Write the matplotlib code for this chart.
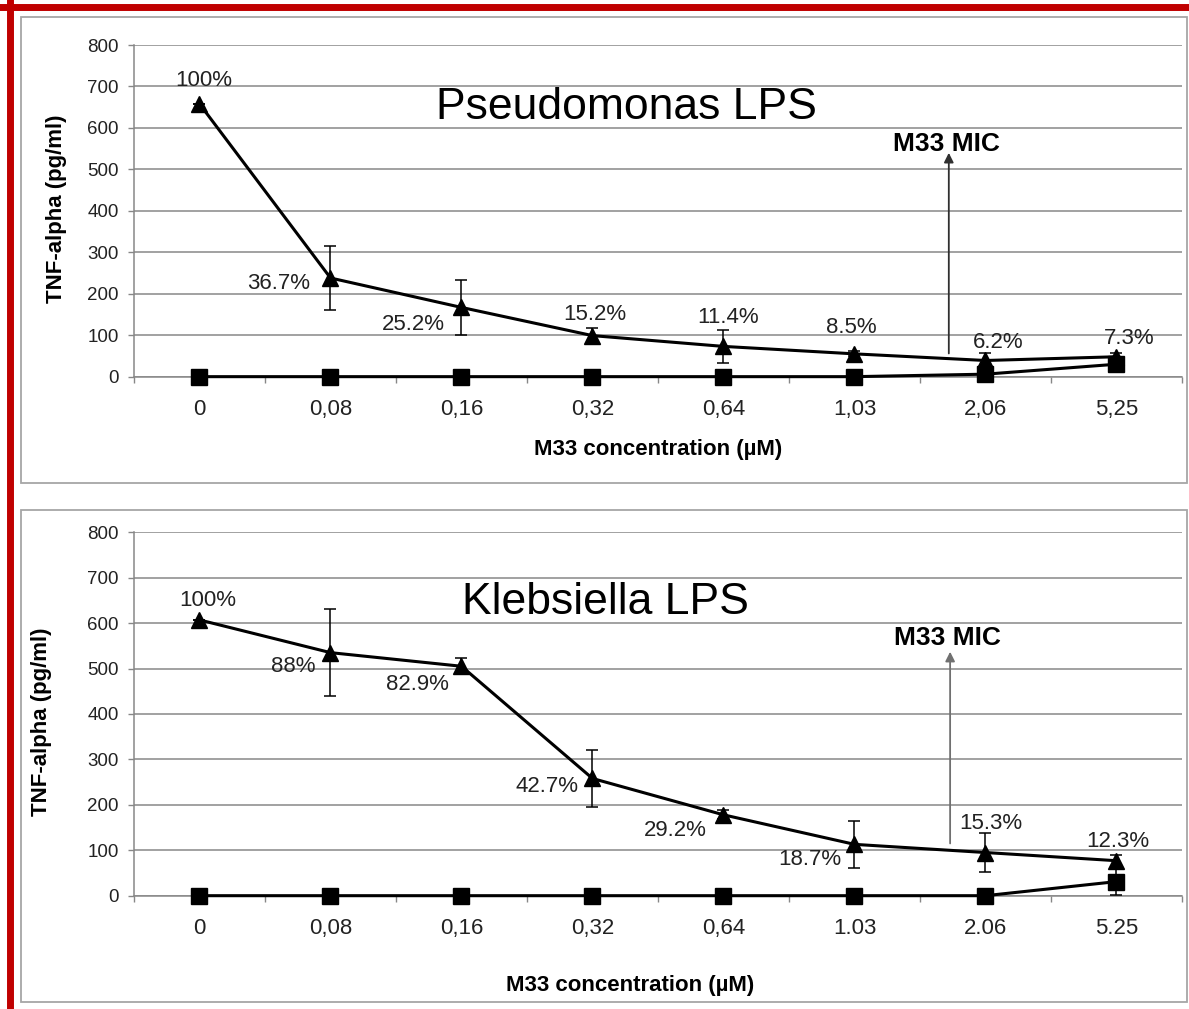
import numpy as np
import matplotlib
matplotlib.use('Agg')
import matplotlib.pyplot as plt
from matplotlib.patches import Rectangle
from matplotlib.lines import Line2D

plt.rcParams['font.family'] = ['Liberation Sans', 'DejaVu Sans']

# M33 concentration (uM) tick labels, as printed on each panel
pseudo_ticks = ['0', '0,08', '0,16', '0,32', '0,64', '1,03', '2,06', '5,25']
kleb_ticks = ['0', '0,08', '0,16', '0,32', '0,64', '1.03', '2.06', '5.25']

# Pseudomonas LPS - TNF-alpha (pg/ml)
pseudo_lps = [658, 238, 167, 99, 73, 55, 39, 48]
pseudo_lps_err = [0, 78, 67, 18, 40, 6, 18, 8]
pseudo_ctrl = [0, 0, 0, 0, 0, 0, 6, 30]
pseudo_ctrl_err = [0, 0, 0, 0, 0, 0, 0, 5]
pseudo_pct = ['100%', '36.7%', '25.2%', '15.2%', '11.4%', '8.5%', '6.2%', '7.3%']

# Klebsiella LPS - TNF-alpha (pg/ml)
kleb_lps = [607, 535, 505, 258, 178, 113, 95, 77]
kleb_lps_err = [0, 95, 18, 63, 10, 52, 42, 12]
kleb_ctrl = [0, 0, 0, 0, 0, 0, 0, 31]
kleb_ctrl_err = [0, 0, 0, 0, 0, 0, 0, 30]
kleb_pct = ['100%', '88%', '82.9%', '42.7%', '29.2%', '18.7%', '15.3%', '12.3%']

# where each % label sits relative to its point (offset points)
pseudo_pct_off = [(3, 17), (-37, -4), (-35, -12), (2, 15), (3, 21), (-2, 19), (9, 13), (9, 13)]
kleb_pct_off = [(6, 14), (-27, -10), (-32, -13), (-33, -6), (-35, -11), (-32, -11), (4, 21), (1, 14)]

GRID = '#878787'

fig = plt.figure(figsize=(11.89, 10.09), dpi=100)


def panel(rect, ticks, lps, lps_err, ctrl, ctrl_err, pct, pct_off, title, title_x,
          mic_x, mic_y0, mic_y1, mic_text_y, xlab_x, xlab_y, ylab_x, ylab_y, arrow_col):
    ax = fig.add_axes(rect)
    x = np.arange(len(ticks))

    ax.errorbar(x, ctrl, yerr=ctrl_err, fmt='-s', color='black', lw=2.2, ms=12,
                elinewidth=1.1, capsize=4, capthick=1.1, zorder=3, clip_on=False)
    ax.errorbar(x, lps, yerr=lps_err, fmt='-^', color='black', lw=2.2, ms=12,
                elinewidth=1.1, capsize=4, capthick=1.1, zorder=4, clip_on=False)

    for i, (txt, off) in enumerate(zip(pct, pct_off)):
        ax.annotate(txt, (x[i], lps[i]), xytext=off, textcoords='offset points',
                    ha='center', va='center', fontsize=16, color='#222222')

    ax.text(title_x, 621, title, fontsize=32, ha='center', va='baseline')

    # MIC arrow
    ax.annotate('', xy=(mic_x, mic_y1), xytext=(mic_x, mic_y0),
                arrowprops=dict(arrowstyle='-|>', color=arrow_col, lw=1.3,
                                mutation_scale=14, shrinkA=0, shrinkB=0))
    ax.text(mic_x - 0.02, mic_text_y, 'M33 MIC', fontsize=19, fontweight='bold',
            ha='center', va='center')

    ax.set_xlim(-0.5, 7.5)
    ax.set_ylim(0, 800)
    ax.set_yticks(np.arange(0, 801, 100))
    ax.set_xticks(x)
    ax.set_xticklabels(ticks)
    ax.set_xticks(np.arange(-0.5, 8, 1), minor=True)
    ax.tick_params(axis='x', which='major', length=0, pad=16, labelsize=16, labelcolor='#222222')
    ax.tick_params(axis='x', which='minor', length=4, width=1, color=GRID, direction='out')
    ax.tick_params(axis='y', length=4, width=1, color=GRID, pad=7, labelsize=13.5, labelcolor='#222222')

    ax.yaxis.grid(True, color=GRID, lw=1.1)
    ax.set_axisbelow(True)
    for s in ('top', 'right'):
        ax.spines[s].set_visible(False)
    for s in ('left', 'bottom'):
        ax.spines[s].set_color(GRID)
        ax.spines[s].set_linewidth(1.1)
        ax.spines[s].set_zorder(1)

    ax.set_xlabel('M33 concentration (µM)', fontsize=16, fontweight='bold')
    ax.xaxis.set_label_coords(xlab_x, xlab_y)
    ax.set_ylabel('TNF-alpha (pg/ml)', fontsize=16, fontweight='bold')
    ax.yaxis.set_label_coords(ylab_x, ylab_y)
    return ax


panel([0.1127, 0.6267, 0.8814, 0.3287], pseudo_ticks, pseudo_lps, pseudo_lps_err,
      pseudo_ctrl, pseudo_ctrl_err, pseudo_pct, pseudo_pct_off, 'Pseudomonas LPS', 3.26,
      5.72, 56, 540, 561, 0.5, -0.188, -0.064, 0.506, '#303030')
panel([0.1127, 0.1123, 0.8814, 0.3602], kleb_ticks, kleb_lps, kleb_lps_err,
      kleb_ctrl, kleb_ctrl_err, kleb_pct, kleb_pct_off, 'Klebsiella LPS', 3.10,
      5.73, 115, 537, 567, 0.473, -0.218, -0.078, 0.478, '#707070')

# chart-area frames (pixel boxes converted to figure fractions)
W, H = 1189, 1009
for (x0, y0, x1, y1) in [(21, 17, 1187, 483), (21, 510, 1187, 1002)]:
    fig.add_artist(Rectangle((x0 / W, 1 - y1 / H), (x1 - x0) / W, (y1 - y0) / H,
                             transform=fig.transFigure, fill=False,
                             edgecolor='#a6a6a6', lw=1.3))

# red outer border (top and left only, as in the source)
fig.add_artist(Line2D([0, 1], [1 - 6.5 / H, 1 - 6.5 / H], transform=fig.transFigure,
                      color='#c00000', lw=5))
fig.add_artist(Line2D([9.5 / W, 9.5 / W], [0, 1], transform=fig.transFigure,
                      color='#c00000', lw=5))

fig.savefig('out.png', dpi=100)
